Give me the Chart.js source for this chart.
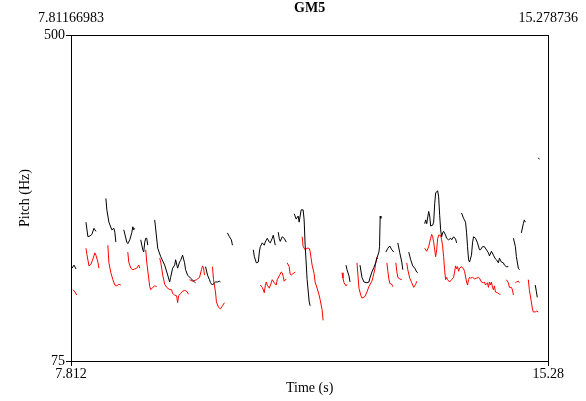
<!DOCTYPE html>
<html><head><meta charset="utf-8">
<script src="https://cdn.jsdelivr.net/npm/chart.js@4/dist/chart.umd.min.js"></script>
<style>html,body{margin:0;padding:0;background:#fff}#wrap{width:586px;height:401px}</style>
</head><body><div id="wrap"><canvas id="c" width="586" height="401"></canvas></div>
<script>
const chartTitle = 'GM5';
const xAxisTitle = 'Time (s)';
const yAxisTitle = 'Pitch (Hz)';
const timeRange = [7.812, 15.28];
const pitchRange = [75, 500];
const bottomTickLabels = ['7.812', '15.28'];
const topTickLabels = ['7.81166983', '15.278736'];
const pitchTickLabels = ['75', '500'];

// null marks a break (unvoiced gap) in the contour
const blackTimes = [
 7.828,7.859,7.890,null,
 8.046,8.077,8.108,8.139,8.171,8.202,null,
 8.358,8.373,8.405,8.451,8.483,8.498,8.514,null,
 8.638,8.685,8.701,8.732,8.763,8.779,8.794,8.810,null,
 8.903,8.935,8.950,8.966,8.981,8.997,9.013,null,
 9.122,9.169,9.216,9.278,9.325,9.356,9.371,9.402,9.434,9.449,9.480,9.511,9.527,9.558,9.589,9.605,9.636,9.683,9.745,9.761,null,
 9.917,9.948,9.979,9.995,10.026,10.057,10.073,10.104,10.135,10.151,null,
 10.260,10.291,10.322,10.338,null,
 10.665,10.681,10.712,10.743,10.759,10.774,10.805,10.837,10.852,10.883,10.915,10.930,10.961,10.977,10.992,11.008,null,
 11.055,11.070,11.086,11.117,11.148,11.180,null,
 11.304,11.336,11.367,11.382,11.413,11.445,11.460,11.476,11.507,11.538,11.554,null,
 12.115,12.131,12.162,12.178,null,
 12.334,12.365,12.396,12.443,12.474,12.489,12.520,12.552,12.583,12.598,12.630,12.640,12.650,12.661,null,
 12.739,12.770,12.801,12.832,12.863,null,
 12.926,12.957,12.988,13.004,null,
 13.097,13.128,13.159,13.191,13.222,13.238,null,
 13.347,13.362,13.378,13.409,13.425,13.440,13.471,13.487,13.503,13.518,13.549,13.565,13.581,13.596,13.612,13.627,13.643,13.674,13.690,13.721,13.752,13.768,13.799,13.830,13.846,null,
 13.923,13.955,13.986,14.002,14.017,14.033,14.048,14.079,14.095,14.111,14.142,14.173,14.204,14.220,14.251,14.282,14.313,14.344,14.360,14.391,14.422,14.454,14.469,14.500,14.516,14.547,14.578,14.594,14.625,14.656,null,
 14.735,14.766,14.781,14.812,14.828,null,
 14.859,14.890,14.906,14.921,null,
 15.077,15.093,15.108,null,
 15.124,15.140
];
const blackPitch = [
 196,200,195,null,
 256,237,238,240,248,244,null,
 287,272,256,246,248,243,230,null,
 246,230,228,233,242,250,246,248,null,
 233,220,217,230,235,235,226,null,
 259,222,211,200,187,178,184,196,200,207,196,204,206,213,203,194,187,183,178,177,null,
 198,187,181,177,174,177,178,178,179,178,null,
 242,237,233,226,null,
 220,211,203,204,217,224,229,226,230,235,230,229,235,239,233,226,null,
 243,235,231,237,235,230,null,
 267,260,264,256,272,272,259,226,181,153,147,null,
 200,194,186,178,null,
 200,184,178,177,178,183,191,197,204,209,217,224,264,261,null,
 217,222,225,220,217,null,
 229,216,204,194,null,
 217,207,199,196,191,190,null,
 254,259,254,270,264,251,252,256,280,294,297,289,265,246,237,242,244,239,235,233,235,233,237,234,229,null,
 268,261,256,242,224,207,204,213,229,237,235,229,220,220,224,224,220,216,212,218,213,208,207,203,209,204,203,200,198,198,null,
 235,224,211,196,194,null,
 242,254,259,256,null,
 174,166,158,null,
 340,338
];

const redTimes = [
 7.843,7.874,7.905,null,
 8.046,8.061,8.093,8.124,8.155,8.186,8.202,8.233,8.249,null,
 8.389,8.405,8.436,8.467,8.498,8.529,8.560,8.592,null,
 8.701,8.716,8.748,8.779,8.810,8.841,8.872,8.888,null,
 8.981,8.997,9.028,9.044,9.060,9.091,9.122,9.153,null,
 9.200,9.216,9.247,9.278,9.309,9.356,9.387,9.402,9.434,9.465,9.480,9.496,9.527,9.558,9.589,9.621,9.652,null,
 9.667,9.714,9.776,9.823,9.854,9.870,9.886,9.901,null,
 10.026,10.042,10.073,10.088,10.120,10.151,10.182,10.213,null,
 10.774,10.805,10.837,10.852,10.868,10.883,10.915,10.946,10.961,10.992,11.024,11.039,11.070,11.102,11.117,11.133,11.148,11.180,null,
 11.195,11.226,11.242,11.258,11.289,11.320,null,
 11.429,11.445,11.476,11.507,11.538,11.554,11.569,11.585,11.616,11.632,11.663,11.694,11.710,11.741,11.757,null,
 12.053,12.068,12.084,12.115,12.131,null,
 12.287,12.302,12.318,12.349,12.365,12.411,12.443,12.474,12.520,12.536,12.567,12.583,12.598,12.614,null,
 12.755,12.770,12.786,12.801,12.832,12.848,null,
 12.895,12.910,12.926,12.957,12.988,null,
 13.066,13.082,13.113,13.144,13.175,13.206,13.222,null,
 13.347,13.378,13.409,13.425,13.440,13.456,13.471,13.487,13.503,13.518,13.534,13.549,13.565,13.596,13.612,13.627,13.643,13.658,13.674,13.690,13.705,13.736,13.768,13.799,13.814,13.830,13.846,13.861,13.877,13.892,13.923,13.955,13.970,
 14.002,14.017,14.033,14.048,14.064,14.095,14.126,14.157,14.189,14.204,14.235,14.266,14.282,14.298,14.329,14.344,14.360,14.376,14.391,14.407,14.422,14.438,14.454,14.485,14.516,14.532,null,
 14.625,14.656,14.672,14.703,14.719,14.735,null,
 14.766,14.781,14.812,14.828,null,
 14.968,14.984,15.015,15.030,15.046,15.077,15.093,15.124
];
const redPitch = [
 168,165,161,null,
 222,214,199,201,208,216,213,204,196,null,
 226,203,190,181,174,173,175,174,null,
 217,204,196,194,195,196,200,196,null,
 220,204,183,172,168,171,173,172,null,
 209,204,187,175,171,168,168,163,161,160,151,160,163,166,167,166,162,null,
 181,179,181,184,194,199,197,187,null,
 198,181,165,152,145,143,147,151,null,
 174,171,164,173,178,174,170,177,181,177,174,181,186,191,190,185,179,182,null,
 203,198,188,187,189,191,null,
 237,224,220,222,222,218,209,200,189,178,170,161,155,142,128,null,
 190,183,177,173,175,null,
 203,187,170,160,157,159,165,172,179,184,195,204,210,208,null,
 203,192,182,176,175,172,null,
 203,192,184,182,181,null,
 203,194,183,177,171,175,179,null,
 222,218,224,230,235,240,237,230,220,211,220,234,239,239,233,225,211,194,181,184,181,178,181,184,191,199,195,198,192,196,198,195,192,
 178,174,181,184,183,184,182,183,184,183,178,177,178,174,177,171,178,174,178,171,168,173,165,164,162,162,null,
 181,177,171,171,168,161,null,
 177,178,179,177,null,
 181,168,152,144,139,139,140,139
];

function toPoints(ts, hs) {
  const pts = [];
  for (let i = 0; i < ts.length; i++) {
    if (ts[i] === null) pts.push({x: ts[i - 1], y: null});
    else pts.push({x: ts[i], y: hs[i]});
  }
  return pts;
}

const FONT = 'Liberation Serif, Times New Roman, serif';
const font14 = {family: FONT, size: 14};
const endTicks = s => { s.ticks = [{value: s.min}, {value: s.max}]; };

new Chart(document.getElementById('c'), {
  type: 'line',
  data: {
    datasets: [
      {data: toPoints(blackTimes, blackPitch), borderColor: '#000000', borderWidth: 1, pointRadius: 0, spanGaps: false, tension: 0, xAxisID: 'x', yAxisID: 'y'},
      {data: toPoints(redTimes, redPitch), borderColor: '#ff0000', borderWidth: 1, pointRadius: 0, spanGaps: false, tension: 0, xAxisID: 'x', yAxisID: 'y'}
    ]
  },
  options: {
    responsive: false,
    animation: false,
    devicePixelRatio: 1,
    layout: {padding: 0},
    plugins: {
      legend: {display: false},
      tooltip: {enabled: false},
      title: {display: false}
    },
    scales: {
      x: {
        type: 'linear', position: 'bottom', min: timeRange[0], max: timeRange[1],
        afterBuildTicks: endTicks,
        ticks: {callback: (v, i) => bottomTickLabels[i], color: '#000', font: font14, padding: 0, maxRotation: 0, autoSkip: false},
        grid: {display: true, drawOnChartArea: false, drawTicks: true, tickLength: 5, color: '#000'},
        border: {display: true, color: '#000', width: 1},
        title: {display: true, text: xAxisTitle, color: '#000', font: font14, padding: {top: 0, bottom: 4}},
        afterFit: s => { s.height = 40; }
      },
      x2: {
        type: 'linear', axis: 'x', position: 'top', min: timeRange[0], max: timeRange[1],
        afterBuildTicks: endTicks,
        ticks: {callback: (v, i) => topTickLabels[i], color: '#000', font: font14, padding: 8, maxRotation: 0, autoSkip: false},
        grid: {display: false, drawTicks: false},
        border: {display: true, color: '#000', width: 1},
        title: {display: true, text: chartTitle, color: '#000', font: {family: FONT, size: 14, weight: 'bold'}, padding: {top: 0, bottom: 0}},
        afterFit: s => { s.height = 35; }
      },
      y: {
        type: 'linear', position: 'left', min: pitchRange[0], max: pitchRange[1],
        afterBuildTicks: endTicks,
        ticks: {callback: (v, i) => pitchTickLabels[i], color: '#000', font: font14, padding: 1, autoSkip: false},
        grid: {display: true, drawOnChartArea: false, drawTicks: true, tickLength: 5, color: '#000'},
        border: {display: true, color: '#000', width: 1},
        title: {display: true, text: yAxisTitle, color: '#000', font: font14, padding: {top: 17, bottom: 0}},
        afterFit: s => { s.width = 71; }
      },
      y2: {
        type: 'linear', axis: 'y', position: 'right', min: pitchRange[0], max: pitchRange[1],
        ticks: {display: false},
        grid: {display: false, drawTicks: false},
        border: {display: true, color: '#000', width: 1},
        afterFit: s => { s.width = 36; }
      }
    }
  }
});
</script>
</body></html>
